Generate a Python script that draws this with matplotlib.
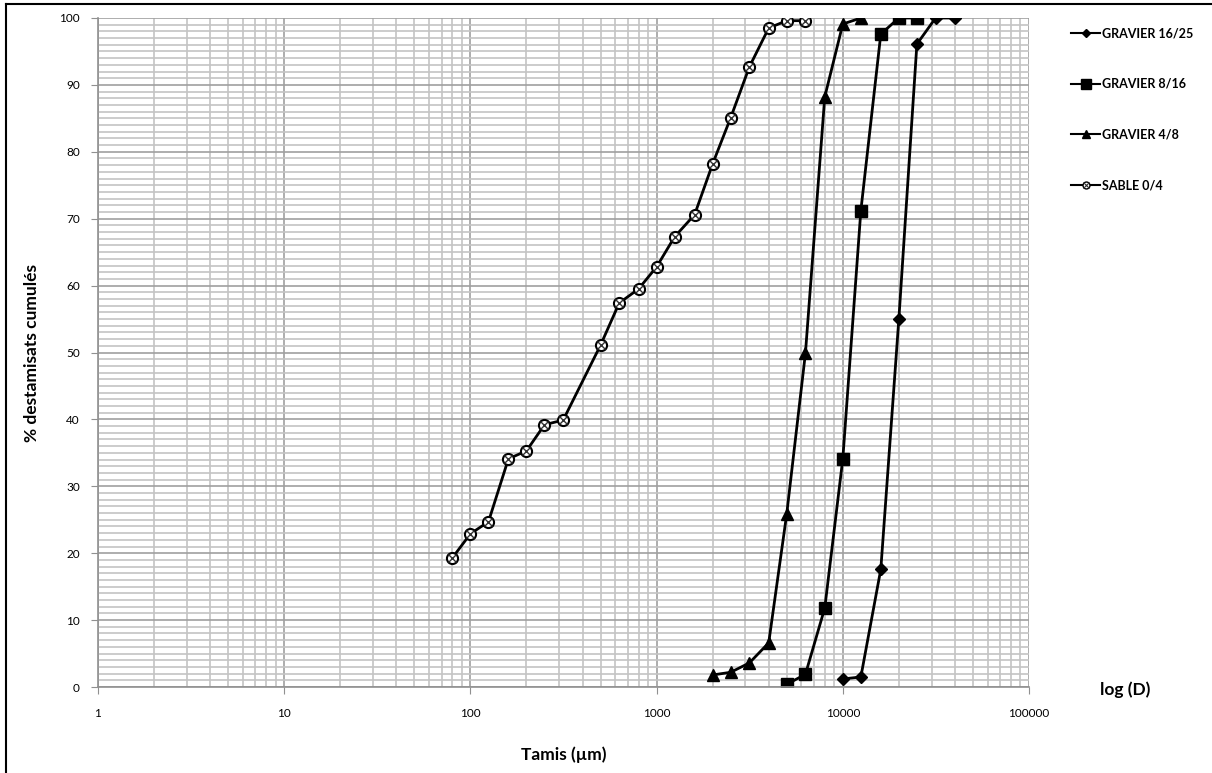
import numpy as np
import matplotlib
matplotlib.use("Agg")
import matplotlib.pyplot as plt
from matplotlib.lines import Line2D
from matplotlib.legend_handler import HandlerTuple
from matplotlib.ticker import LogLocator, MultipleLocator, FixedLocator

plt.rcParams['font.family'] = ['Lato', 'DejaVu Sans']

# tamis (µm) et % cumulés
tamis_sable = [80, 100, 125, 160, 200, 250, 315, 500, 630, 800, 1000, 1250, 1600,
               2000, 2500, 3150, 4000, 5000, 6300]
sable = [19.3, 22.9, 24.7, 34.1, 35.3, 39.2, 39.9, 51.1, 57.4, 59.5, 62.8, 67.3, 70.6,
         78.2, 85.1, 92.7, 98.5, 99.6, 99.6]

tamis_48 = [2000, 2500, 3150, 4000, 5000, 6300, 8000, 10000, 12500]
grav_48 = [1.8, 2.2, 3.6, 6.6, 25.9, 49.9, 88.2, 99.1, 100]

tamis_816 = [5000, 6300, 8000, 10000, 12500, 16000, 20000, 25000]
grav_816 = [0.4, 1.9, 11.8, 34.1, 71.2, 97.6, 100, 100]

tamis_1625 = [10000, 12500, 16000, 20000, 25000, 31500, 40000]
grav_1625 = [1.2, 1.5, 17.6, 55.0, 96.1, 100, 100]

fig = plt.figure(figsize=(12.12, 7.73), dpi=100)
ax = fig.add_axes([98/1212, 1-687/773, (1029-98)/1212, (687-18)/773])

lw = 2.0
ax.plot(tamis_1625, grav_1625, color='black', lw=lw, marker='D', ms=6)
ax.plot(tamis_816, grav_816, color='black', lw=lw, marker='s', ms=9)
ax.plot(tamis_48, grav_48, color='black', lw=lw, marker='^', ms=8)
ax.plot(tamis_sable, sable, color='black', lw=lw, marker='o', ms=8,
        mfc='white', mec='black', mew=1.5)
ax.plot(tamis_sable, sable, ls='none', marker='x', ms=6, mec='#333333', mew=1.0)

ax.set_xscale('log')
ax.set_xlim(1, 100000)
ax.set_ylim(0, 100)
ax.xaxis.set_major_locator(FixedLocator([1, 10, 100, 1000, 10000, 100000]))
ax.xaxis.set_minor_locator(LogLocator(base=10, subs=np.arange(2, 10)))
ax.set_xticklabels(['1', '10', '100', '1000', '10000', '100000'])
ax.yaxis.set_major_locator(MultipleLocator(10))
ax.yaxis.set_minor_locator(MultipleLocator(1))

ax.grid(which='major', color='#a0a0a0', lw=1.2)
ax.grid(which='minor', color='#c4c4c4', lw=1.2)
ax.set_axisbelow(True)
for s in ['top', 'right']:
    ax.spines[s].set_visible(False)
for s in ['left', 'bottom']:
    ax.spines[s].set_color('#909090')
    ax.spines[s].set_linewidth(1.2)
ax.tick_params(which='major', length=5, color='#909090', labelsize=8.5, pad=8)
ax.tick_params(which='minor', length=0)
ax.tick_params(axis='x', pad=10)

ax.set_xlabel('Tamis (µm)', fontsize=12.5, fontweight='bold', labelpad=20)
ax.set_ylabel('% destamisats cumulés', fontsize=12.5, fontweight='bold', labelpad=14)
fig.text(1125/1212, 1-690/773, 'log (D)', fontsize=12.5, fontweight='bold',
         ha='center', va='center')

labels = ['GRAVIER 16/25', 'GRAVIER 8/16', 'GRAVIER 4/8', 'SABLE 0/4']
h1 = Line2D([], [], color='black', lw=1.5, marker='D', ms=4)
h2 = Line2D([], [], color='black', lw=1.5, marker='s', ms=7)
h3 = Line2D([], [], color='black', lw=1.5, marker='^', ms=6)
h4 = Line2D([], [], color='black', lw=1.5, marker='o', ms=5, mfc='white', mew=1.0)
h4x = Line2D([], [], ls='none', marker='x', ms=4, mec='#333333', mew=0.8)
fig.legend([h1, h2, h3, (h4, h4x)], labels,
           handler_map={tuple: HandlerTuple(ndivide=1)},
           loc='upper left', bbox_to_anchor=(1060/1212, 1-16/773),
           frameon=False, handlelength=2.3, handletextpad=0.2,
           labelspacing=3.1, prop={'size': 9, 'weight': 'bold'})

# cadre
fig.add_artist(Line2D([6/1212, 6/1212], [0, 1-4/773], color='black', lw=1.5))
fig.add_artist(Line2D([6/1212, 1], [1-4/773, 1-4/773], color='black', lw=1.5))

fig.savefig('out.png', dpi=100)
